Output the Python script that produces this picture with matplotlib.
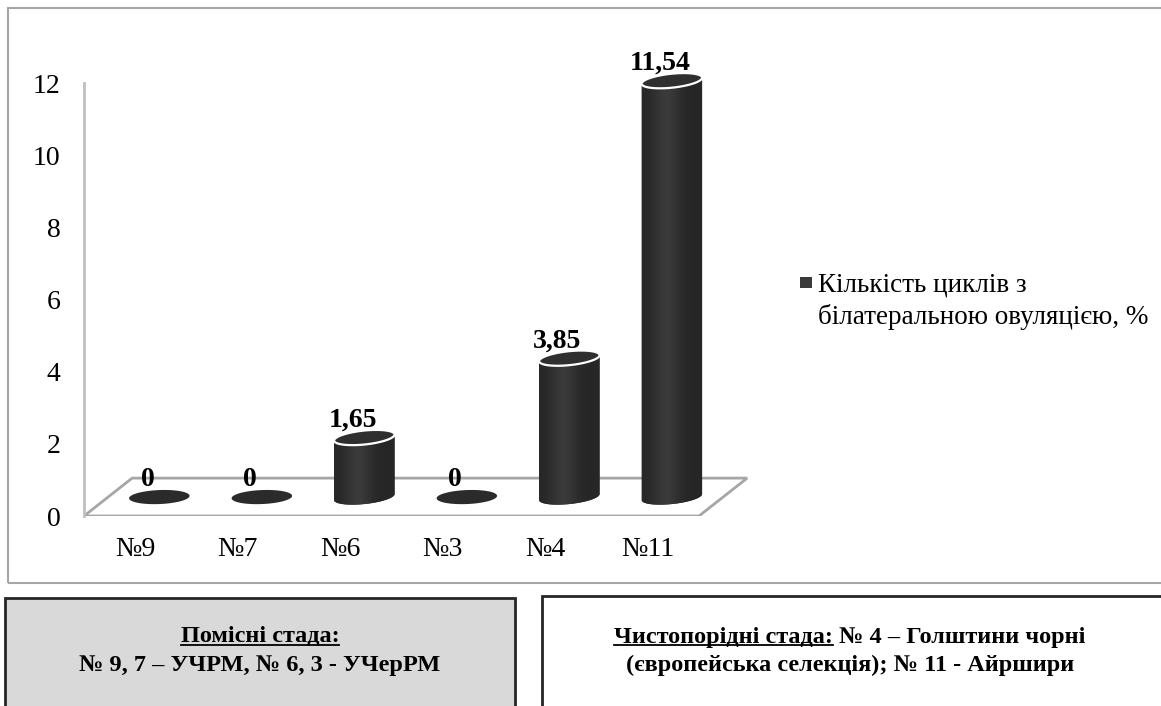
import numpy as np
import matplotlib.pyplot as plt
from matplotlib.patches import Polygon, Rectangle
from matplotlib.lines import Line2D

# дані
categories = ["№9", "№7", "№6", "№3", "№4", "№11"]
values = [0, 0, 1.65, 0, 3.85, 11.54]
value_labels = ["0", "0", "1,65", "0", "3,85", "11,54"]
yticks = [0, 2, 4, 6, 8, 10, 12]
legend_label = "Кількість циклів з\nбілатеральною овуляцією, %"
box_left = ["Помісні стада:", "№ 9, 7 – УЧРМ, № 6, 3 - УЧерРМ"]
box_right_head = "Чистопорідні стада:"
box_right = [" № 4 – Голштини чорні", "(європейська селекція); № 11 - Айршири"]

W, H = 1161, 706
plt.rcParams['font.family'] = ['Liberation Serif', 'DejaVu Serif']

fig = plt.figure(figsize=(W / 100, H / 100), dpi=100)


def fx(px):
    return px / W


def fy(py):
    return 1 - py / H


# рамка діаграми
fig.add_artist(Rectangle((fx(8), fy(583)), fx(1175) - fx(8), fy(8) - fy(583),
                         transform=fig.transFigure, fill=False, ec='#a6a6a6', lw=1.5))

# осі: ~102.5 px на категорію, 36.08 px на одиницю
cat_px, unit_px = 102.5, 36.08
xmin, xmax, ymax = -0.5, 6.2, 13.5
ax = fig.add_axes([fx(84), fy(516), (xmax - xmin) * cat_px / W, ymax * unit_px / H])
ax.set_xlim(xmin, xmax)
ax.set_ylim(0, ymax)
ax.set_autoscale_on(False)
for s in ["top", "right", "bottom"]:
    ax.spines[s].set_visible(False)
ax.spines["left"].set_bounds(0, 12)
ax.spines["left"].set_color('#bfbfbf')
ax.spines["left"].set_linewidth(2)
ax.set_yticks(yticks)
ax.set_yticklabels([str(t) for t in yticks])
ax.set_xticks(range(len(categories)))
ax.set_xticklabels(categories)
ax.tick_params(axis='y', length=0, pad=17, labelsize=20)
ax.tick_params(axis='x', length=0, pad=15, labelsize=20)
ax.patch.set_alpha(0)

# підлога (3D)
DX, DY = 0.47, 1.05
n = len(categories)
floor = Polygon([(-0.5, 0), (n - 0.5, 0), (n - 0.5 + DX, DY), (-0.5 + DX, DY)],
                closed=True, fill=False, ec='#a6a6a6', lw=2, zorder=1)
ax.add_patch(floor)

# циліндри
RX, RY = 0.295, 7 / unit_px
grad_u = np.linspace(0, 1, 200)
bright = 0.15 + 0.08 * np.exp(-((grad_u - 0.4) / 0.22) ** 2)
grad = np.dstack([bright, bright, bright])


def ell(cx, cy, t, k):
    return cx + RX * np.cos(t), cy + RY * np.sin(t) + k * np.cos(t)


for i, (v, lab) in enumerate(zip(values, value_labels)):
    cx = i + DX / 2
    yb = DY / 2
    yt = yb + v
    t_full = np.linspace(0, 2 * np.pi, 120)
    if v > 0:
        K = 3 / unit_px
        tb = np.linspace(np.pi, 2 * np.pi, 60)
        tt = np.linspace(0, np.pi, 60)
        bx, by = ell(cx, yb, tb, K)
        tx, ty = ell(cx, yt, tt, K)
        body = Polygon(np.column_stack([np.r_[bx, tx], np.r_[by, ty]]),
                       closed=True, fc='#2b2b2b', ec='none', zorder=3)
        ax.add_patch(body)
        im = ax.imshow(grad, extent=[cx - RX, cx + RX, yb - RY - K, yt + RY + K],
                       aspect='auto', zorder=3.5, interpolation='bilinear')
        im.set_clip_path(body)
        ex, ey = ell(cx, yt, t_full, K)
        ax.add_patch(Polygon(np.column_stack([ex, ey]), closed=True,
                             fc='#2f2f2f', ec='white', lw=1.6, zorder=4))
    else:
        ex, ey = ell(cx, yt, t_full, 1.2 / unit_px)
        ax.add_patch(Polygon(np.column_stack([ex, ey]), closed=True,
                             fc='#2b2b2b', ec='none', zorder=4))
    ax.text(cx - 0.115, yt + 0.3, lab, ha='center', va='baseline',
            fontsize=20, fontweight='bold', zorder=5)

ax.set_xlim(xmin, xmax)
ax.set_ylim(0, ymax)

# легенда
fig.add_artist(Rectangle((fx(800), fy(288)), 12 / W, 11 / H, transform=fig.transFigure,
                         fc='#3a3a3a', ec='none'))
for line, py in zip(legend_label.split("\n"), [285, 317]):
    fig.text(fx(818), fy(py), line, ha='left', va='center', fontsize=19.5)

# нижні блоки
fig.add_artist(Rectangle((fx(5), fy(720)), fx(515) - fx(5), fy(598) - fy(720),
                         transform=fig.transFigure, fc='#d9d9d9', ec='#262626', lw=2))
fig.add_artist(Rectangle((fx(542), fy(720)), fx(1175) - fx(542), fy(596) - fy(720),
                         transform=fig.transFigure, fc='white', ec='#262626', lw=2))

fs = 17.5
t1 = fig.text(fx(260), fy(637), box_left[0], ha='center', va='center', fontsize=fs, fontweight='bold')
fig.text(fx(260), fy(665), box_left[1], ha='center', va='center', fontsize=fs, fontweight='bold')
t2 = fig.text(fx(850), fy(637), box_right_head + box_right[0], ha='center', va='center',
              fontsize=fs, fontweight='bold')
fig.text(fx(850), fy(665), box_right[1], ha='center', va='center', fontsize=fs, fontweight='bold')

# підкреслення
fig.canvas.draw()
r = fig.canvas.get_renderer()
inv = fig.transFigure.inverted()


def underline(t, prefix):
    bb = t.get_window_extent(r)
    tmp = fig.text(0, 0, prefix, fontsize=fs, fontweight='bold')
    w = tmp.get_window_extent(r).width
    tmp.remove()
    y = bb.y0 + 3
    (x0, y0), (x1, _) = inv.transform([(bb.x0, y), (bb.x0 + w, y)])
    fig.add_artist(Line2D([x0, x1], [y0, y0], transform=fig.transFigure, color='black', lw=1.3))


underline(t1, box_left[0])
underline(t2, box_right_head)

fig.savefig("out.png", dpi=100)
